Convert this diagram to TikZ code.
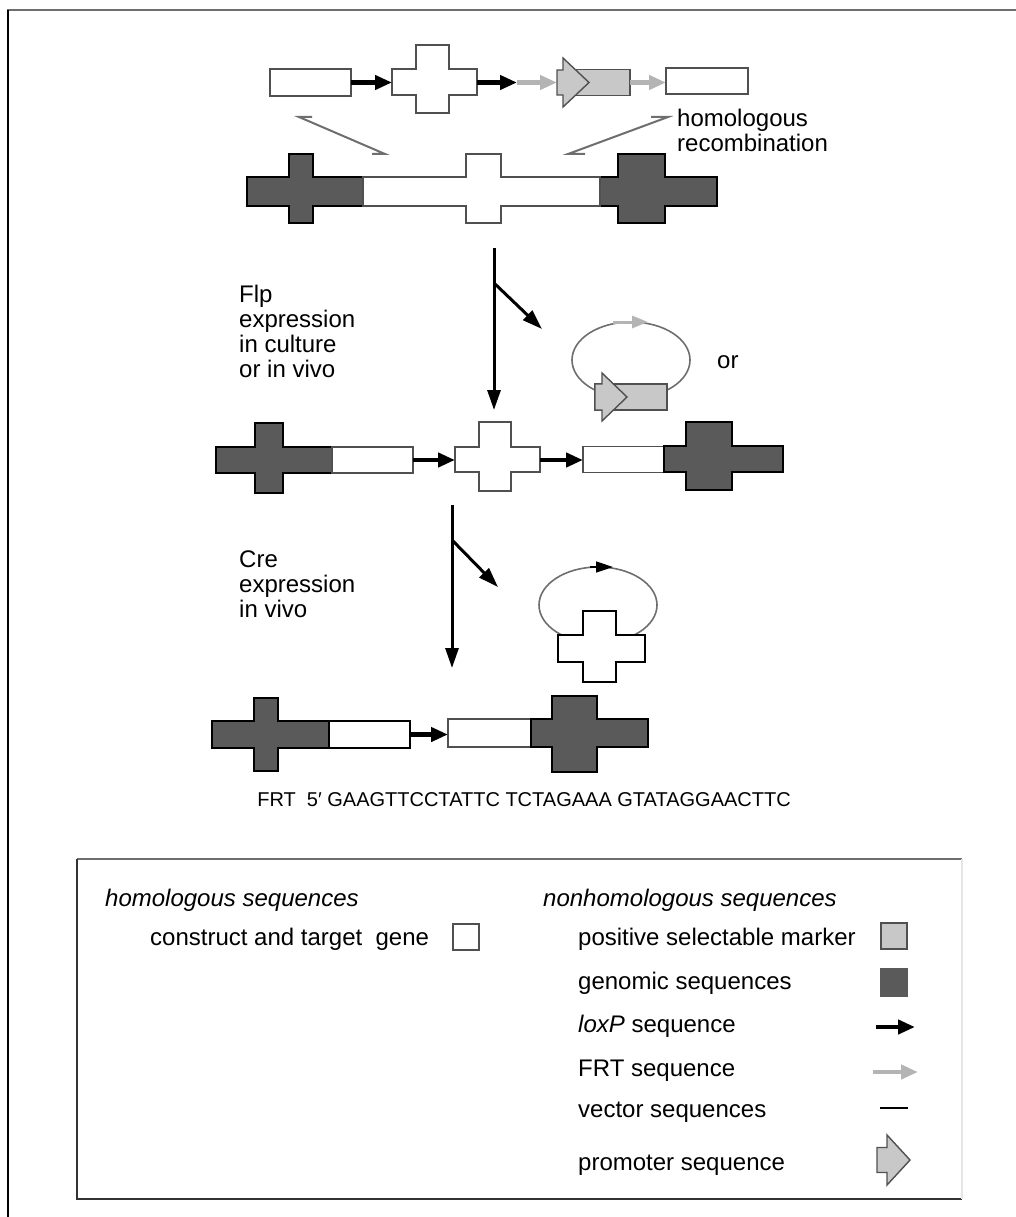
\documentclass[tikz,border=0pt]{standalone}
\usepackage{fontspec}
\setmainfont{Liberation Sans}
\usetikzlibrary{arrows.meta}
\definecolor{genom}{HTML}{5A5A5A}
\definecolor{marker}{HTML}{C8C8C8}
\definecolor{frtc}{HTML}{B4B4B4}
\definecolor{hline}{HTML}{6E6E6E}
\definecolor{outl}{HTML}{505050}
\newcommand{\plusshape}[9]{\draw[#1] (#2,#8) -- (#4,#8) -- (#4,#6) -- (#5,#6) -- (#5,#8) -- (#3,#8) -- (#3,#9) -- (#5,#9) -- (#5,#7) -- (#4,#7) -- (#4,#9) -- (#2,#9) -- cycle;}
\newcommand{\promo}[7]{\draw[#1] (#2,{#5-#6}) -- (#3,{#5-#6}) -- (#3,{#5-#7}) -- (#4,#5) -- (#3,{#5+#7}) -- (#3,{#5+#6}) -- (#2,{#5+#6}) -- cycle;}
\begin{document}
\begin{tikzpicture}[x=1pt,y=-1pt,
  geno/.style={draw=black, fill=genom, line width=1.4pt, line join=miter},
  wshape/.style={draw=outl, fill=white, line width=1.4pt},
  mshape/.style={draw=outl, fill=marker, line width=1.4pt},
  kshape/.style={draw=black, fill=white, line width=2pt},
  bx/.style={inner sep=0pt, outer sep=0pt},
  lox/.style={draw=black, line width=4.5pt, -{Triangle[length=17pt,width=14pt]}},
  frt/.style={draw=frtc, line width=4.5pt, -{Triangle[length=17pt,width=14pt]}},
  big/.style={draw=black, line width=3pt, -{Triangle[length=20pt,width=13pt]}},
  hom/.style={draw=hline, line width=2pt, line join=miter},
  ring/.style={draw=hline, line width=1.6pt},
  lab/.style={font=\fontsize{24}{25}\selectfont, inner sep=0pt, anchor=base west},
]
\useasboundingbox (0,0) rectangle (1016,1217);
% outer frame
\draw[draw=hline, line width=2.5pt] (7,10) -- (1016,10);
\draw[line width=1.5pt] (8,10) -- (8,1217);

% ---------- row 1: construct ----------
\node[wshape, bx, minimum width=81pt, minimum height=27pt] (b1) at (310.5,82.5) {};
\plusshape{wshape}{392}{477}{416}{449}{45}{113}{69}{95}
\coordinate (c1w) at (392,82.5);
\coordinate (c1e) at (477,82.5);
\coordinate (f1) at (517,82.5);
\coordinate (p1w) at (557,82.5);
\draw[lox] (b1.east) -- (c1w);
\draw[lox] (c1e) -- (f1);
\draw[frt] (f1) -- (p1w);
\node[mshape, bx, minimum width=65pt, minimum height=26pt] (gb) at (597.5,82.5) {};
\promo{mshape}{557}{563}{589}{82.5}{12.5}{24.5}
\node[wshape, bx, minimum width=82pt, minimum height=26pt] (b4) at (707,81) {};
\draw[frt] (gb.east) -- (gb.east -| b4.west);

% homologous recombination marks
\draw[hom] (312,117) -- (299,117) -- (385,154) -- (372,154);
\draw[hom] (651,117) -- (668,117) -- (568,154) -- (585,154);
\node[lab] (hom1) at (677,127) {homologous};
\node[lab] (hom2) at (677,152) {recombination};

% ---------- row 2: target locus ----------
\plusshape{geno}{247}{363}{289}{313}{154}{223}{177}{206}
\plusshape{geno}{600}{717}{618}{665}{154}{223}{177}{206}
\draw[wshape] (363,177) -- (466,177) -- (466,154) -- (501,154) -- (501,177) -- (600,177)
  -- (600,206) -- (501,206) -- (501,223) -- (466,223) -- (466,206) -- (363,206) -- cycle;

% ---------- Flp step ----------
\coordinate (a1s) at (494,248);
\coordinate (a1e) at (494,410);
\coordinate (a1b) at (494,283);
\coordinate (a1t) at (542,329);
\draw[big] (a1s) -- (a1e);
\draw[big] (a1b) -- (a1t);
\node[lab] (flp1) at (239,302) {Flp};
\node[lab] (flp2) at (239,327) {expression};
\node[lab] (flp3) at (239,352) {in culture};
\node[lab] (flp4) at (239,377) {or in vivo};

\draw[ring] (631,360) ellipse [x radius=59pt, y radius=38pt];
\coordinate (r1a) at (613,322);
\coordinate (r1b) at (648,322);
\draw[draw=frtc, line width=3pt, -{Triangle[length=16pt,width=12pt]}] (r1a) -- (r1b);
\node[mshape, bx, minimum width=72pt, minimum height=26pt] (cb) at (631,397) {};
\promo{mshape}{595}{602}{627}{397}{13}{24}
\node[lab] (or) at (717,368) {or};

% ---------- row 3 ----------
\plusshape{geno}{216}{332}{255}{283}{423}{493}{447}{473}
\node[wshape, bx, minimum width=81pt, minimum height=26pt] (b31) at (372.5,460) {};
\coordinate (c3w) at (455,460);
\coordinate (c3e) at (540,460);
\draw[lox] (b31.east) -- (c3w);
\plusshape{wshape}{455}{540}{479}{511}{422}{491}{447}{472}
\node[wshape, bx, minimum width=81pt, minimum height=26pt] (b32) at (623.5,459.5) {};
\draw[lox] (c3e) -- (c3e -| b32.west);
\plusshape{geno}{664}{783}{686}{732}{422}{490}{446}{472}

% ---------- Cre step ----------
\coordinate (a2s) at (452,505);
\coordinate (a2e) at (452,668);
\coordinate (a2b) at (452,540);
\coordinate (a2t) at (498,587);
\draw[big] (a2s) -- (a2e);
\draw[big] (a2b) -- (a2t);
\node[lab] (cre1) at (239,567) {Cre};
\node[lab] (cre2) at (239,592) {expression};
\node[lab] (cre3) at (239,617) {in vivo};

\draw[ring] (598,605) ellipse [x radius=59pt, y radius=38pt];
\coordinate (r2a) at (590,567);
\coordinate (r2b) at (613,567);
\draw[draw=black, line width=1.6pt, -{Triangle[length=17pt,width=11pt]}] (r2a) -- (r2b);
\plusshape{kshape}{558}{645}{583}{616}{611}{682}{635}{662}

% ---------- row 4 ----------
\plusshape{geno}{212}{329}{254}{278}{698}{771}{721}{748}
\node[kshape, bx, minimum width=81pt, minimum height=27pt] (b41) at (369.5,734.5) {};
\node[wshape, bx, minimum width=83pt, minimum height=28pt] (b42) at (489.5,733) {};
\draw[lox] (b41.east) -- (b41.east -| b42.west);
\plusshape{geno}{531}{648}{552}{597}{696}{772}{719}{747}

% ---------- FRT sequence ----------
\node[font=\fontsize{20}{24}\selectfont, inner sep=0pt, anchor=base] (frtseq) at (524,806)
  {FRT\ \ 5′ GAAGTTCCTATTC TCTAGAAA GTATAGGAACTTC};

% ---------- legend ----------
\draw[draw=hline, line width=2.5pt] (77,859) -- (962,859);
\draw[draw=black!80, line width=1.5pt] (77,859) -- (77,1199) -- (962,1199);
\draw[draw=black!10, line width=2pt] (962,859) -- (962,1199);

\node[lab] (lh1) at (105,906) {\itshape homologous sequences};
\node[lab] (lh2) at (543,906) {\itshape nonhomologous sequences};
\node[lab] (l1) at (150,945) {construct and target\ \ gene};
\node[wshape, bx, minimum width=26pt, minimum height=26pt] (sq1) at (466,937) {};
\node[lab] (l2) at (578,945) {positive selectable marker};
\node[mshape, bx, minimum width=26pt, minimum height=26pt] (sq2) at (894,936) {};
\node[lab] (l3) at (578,989) {genomic sequences};
\node[bx, draw=genom, fill=genom, line width=1.4pt, minimum width=26pt, minimum height=27pt] (sq3) at (894,982.5) {};
\node[lab] (l4) at (578,1032) {\itshape loxP\upshape\ sequence};
\coordinate (lx1) at (876,1027);
\coordinate (lx2) at (915,1027);
\draw[lox] (lx1) -- (lx2);
\node[lab] (l5) at (578,1076) {FRT sequence};
\coordinate (lf1) at (873,1072);
\coordinate (lf2) at (918,1072);
\draw[frt] (lf1) -- (lf2);
\node[lab] (l6) at (578,1117) {vector sequences};
\coordinate (lv1) at (880,1108);
\coordinate (lv2) at (908,1108);
\draw[line width=2pt] (lv1) -- (lv2);
\node[lab] (l7) at (578,1170) {promoter sequence};
\promo{mshape}{877}{887}{910}{1160}{12.5}{25}
\end{tikzpicture}
\end{document}
